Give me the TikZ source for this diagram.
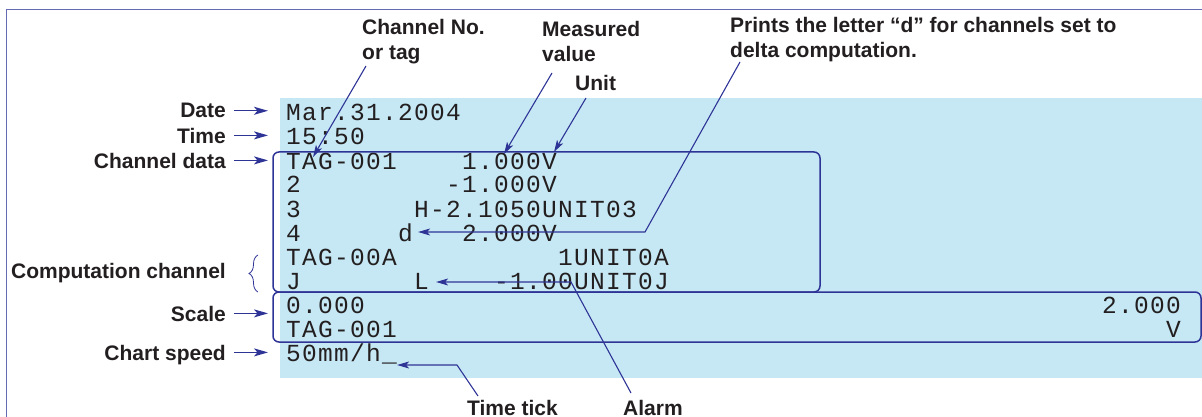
\documentclass[tikz,border=0pt]{standalone}
\usepackage{fontspec}
\setmainfont{Liberation Sans}
\newfontfamily\monof[LetterSpace=5.3]{Liberation Mono}
\usetikzlibrary{arrows.meta,decorations.pathreplacing}
\definecolor{lineblue}{RGB}{46,52,150}
\definecolor{frameblue}{RGB}{100,106,180}
\definecolor{paper}{RGB}{198,232,244}
\definecolor{ink}{RGB}{35,31,32}
\begin{document}
\begin{tikzpicture}[x=1pt,y=-1pt,
  mono/.style={font=\monof\fontsize{24.5}{24.5}\selectfont, text=ink, inner sep=0pt, anchor=base west},
  lab/.style={font=\bfseries\fontsize{21}{25}\selectfont, text=ink, inner sep=0pt, text depth=0pt},
  rlab/.style={lab, anchor=base east},
  tlab/.style={lab, anchor=base west},
  conn/.style={draw=lineblue, line width=1.1pt, -{Stealth[length=12pt,width=7pt,inset=3pt]}},
  larr/.style={draw=lineblue, line width=1.4pt, -{Stealth[length=14pt,width=8pt,inset=3.5pt]}},
  boxline/.style={draw=lineblue, line width=1.5pt, rounded corners=6pt}]
\useasboundingbox (0,0) rectangle (1202,417);
\clip (0,0) rectangle (1202,417);
% background
\fill[paper] (280,98) rectangle (1210,378);
\draw[frameblue, line width=1pt] (6,10) rectangle (1230,440);
% printed text
\node[mono] (date) at (286,121) {Mar.31.2004};
\node[mono] (time) at (286,145) {15:50};
\node[mono] (c1a) at (286,169) {TAG-001};
\node[mono] (c1b) at (462,169) {1.000V};
\node[mono] (c2a) at (286,193) {2};
\node[mono] (c2b) at (446,193) {-1.000V};
\node[mono] (c3a) at (286,217) {3};
\node[mono] (c3b) at (414,217) {H-2.1050UNIT03};
\node[mono] (c4a) at (286,241) {4};
\node[mono] (c4d) at (398,241) {d};
\node[mono] (c4b) at (462,241) {2.000V};
\node[mono] (c5a) at (286,265) {TAG-00A};
\node[mono] (c5b) at (558,265) {1UNIT0A};
\node[mono] (c6a) at (286,289) {J};
\node[mono] (c6l) at (414,289) {L};
\node[mono] (c6b) at (494,289) {-1.00UNIT0J};
\node[mono] (s1a) at (286,313) {0.000};
\node[mono] (s1b) at (1102,313) {2.000};
\node[mono] (s2a) at (286,337) {TAG-001};
\node[mono] (s2b) at (1166,337) {V};
\node[mono] (spd) at (286,361) {50mm/h\_};
% boxes
\draw[boxline] (273,152) rectangle (820,292);
\draw[boxline] (273,292) rectangle (1201,342);
% left labels
\node[rlab] (datel) at (226,118) {Date};
\node[rlab] (timel) at (226,143) {Time};
\node[rlab] (chl) at (226,168) {Channel data};
\node[rlab] (compl) at (226,278) {Computation channel};
\node[rlab] (scalel) at (226,321) {Scale};
\node[rlab] (speedl) at (226,360) {Chart speed};
\coordinate (tipx) at (268,0);
\foreach \n in {datel,timel,chl,scalel,speedl}{
  \draw[larr] ([xshift=8pt]\n.east) -- (\n.east -| tipx);
}
\draw[lineblue, line width=0.8pt, decorate, decoration={brace, amplitude=9pt}]
  (258,292) -- (258,255);
% top labels
\node[tlab] (chno1) at (362,35) {Channel No.};
\node[tlab] (chno2) at (362,60) {or tag};
\node[tlab] (meas1) at (542,37) {Measured};
\node[tlab] (meas2) at (542,62) {value};
\node[tlab] (unitl) at (575,91) {Unit};
\node[tlab] (prn1) at (730,33) {Prints the letter “d” for channels set to};
\node[tlab] (prn2) at (730,58) {delta computation.};
\node[tlab] (tick) at (467,415) {Time tick};
\node[tlab] (alarm) at (623,415) {Alarm};
% connectors
\coordinate (a1s) at (366,66);
\coordinate (a1e) at (313,157);
\draw[conn] (a1s) -- (a1e);
\coordinate (a2s) at (552,73);
\coordinate (a2e) at (504,154);
\draw[conn] (a2s) -- (a2e);
\coordinate (a3s) at (586,98);
\coordinate (a3e) at (554,152);
\draw[conn] (a3s) -- (a3e);
\coordinate (a4s) at (740,62);
\coordinate (a4m) at (645,232);
\draw[conn] (a4s) -- (a4m) -- ([xshift=5pt]c4d.east |- a4m);
\coordinate (a5s) at (631,393);
\coordinate (a5m) at (571,282);
\draw[conn] (a5s) -- (a5m) -- ([xshift=7pt]c6l.east |- a5m);
\coordinate (a6s) at (478,396);
\coordinate (a6m) at (457,365);
\draw[conn] (a6s) -- (a6m) -- (spd.east |- a6m);
\end{tikzpicture}
\end{document}
